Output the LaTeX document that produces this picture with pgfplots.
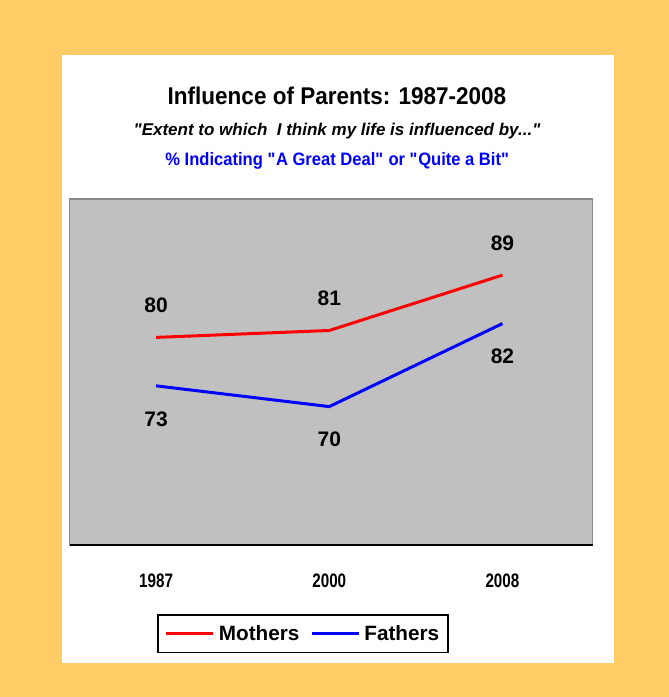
\documentclass[border=0pt]{standalone}
\usepackage{fontspec}
\setmainfont{Liberation Sans}
\newfontfamily\narrowfont[FakeStretch=0.78]{Liberation Sans}
\newfontfamily\titlefont[FakeStretch=0.93]{Liberation Sans}
\newfontfamily\bluefont[FakeStretch=0.92]{Liberation Sans}
\usepackage{pgfplots}
\pgfplotsset{compat=1.18}
\definecolor{bgorange}{HTML}{FFCC66}
\definecolor{plotgray}{HTML}{C0C0C0}
\definecolor{framegray}{HTML}{888888}
\begin{document}
\begin{tikzpicture}
\fill[bgorange] (0bp,0bp) rectangle (669bp,697bp);
\fill[white] (62bp,34bp) rectangle (614bp,642bp);
\node[anchor=base] at (337bp,592bp) {\fontsize{24.2bp}{28bp}\titlefont\bfseries Influence of Parents: 1987-2008};
\node[anchor=base] at (337bp,561bp) {\fontsize{17bp}{20bp}\selectfont\bfseries\itshape \textquotedbl Extent to which\ \ I think my life is influenced by...\textquotedbl};
\node[anchor=base,text=blue] at (337.5bp,531.3bp) {\fontsize{18bp}{21bp}\bluefont\bfseries \% Indicating \textquotedbl A Great Deal\textquotedbl\ or \textquotedbl Quite a Bit\textquotedbl};
\begin{axis}[
  at={(69.5bp,152bp)}, anchor=south west,
  width=523bp, height=346bp, scale only axis,
  xmin=-0.5, xmax=2.52, ymin=50, ymax=100,
  xtick={0,1,2}, xticklabels={1987,2000,2008},
  ytick=\empty,
  major tick length=0pt,
  axis background/.style={fill=plotgray},
  axis line style={draw=framegray, line width=1.3bp},
  xticklabel style={font=\fontsize{19.5bp}{22bp}\narrowfont\bfseries, anchor=base, yshift=-42bp},
  /pgf/number format/assume math mode=true,
  legend style={at={(axis description cs:0.1677,-0.1997)}, anchor=north west,
    draw=black, line width=1.5bp, inner xsep=7bp, inner ysep=8.5bp,
    font=\fontsize{20.7bp}{24bp}\selectfont\bfseries,
    /tikz/every odd column/.append style={column sep=2bp},
    /tikz/every even column/.append style={column sep=9bp}},
  legend columns=2,
  legend image code/.code={\draw[#1] (0bp,0bp) -- (47bp,0bp);},
  after end axis/.code={\draw[black, line width=1.8bp] (rel axis cs:0,0) -- (rel axis cs:1,0);},
  clip=false,
]
\addplot[red, line width=3bp, nodes near coords,
  every node near coord/.append style={anchor=center, yshift=32bp, text=black, font=\fontsize{21bp}{24bp}\selectfont\bfseries}]
  coordinates {(0,80) (1,81) (2,89)};
\addlegendentry{Mothers}
\addplot[blue, line width=3bp, nodes near coords,
  every node near coord/.append style={anchor=center, yshift=-33bp, text=black, font=\fontsize{21bp}{24bp}\selectfont\bfseries}]
  coordinates {(0,73) (1,70) (2,82)};
\addlegendentry{Fathers}
\end{axis}
\end{tikzpicture}
\end{document}
